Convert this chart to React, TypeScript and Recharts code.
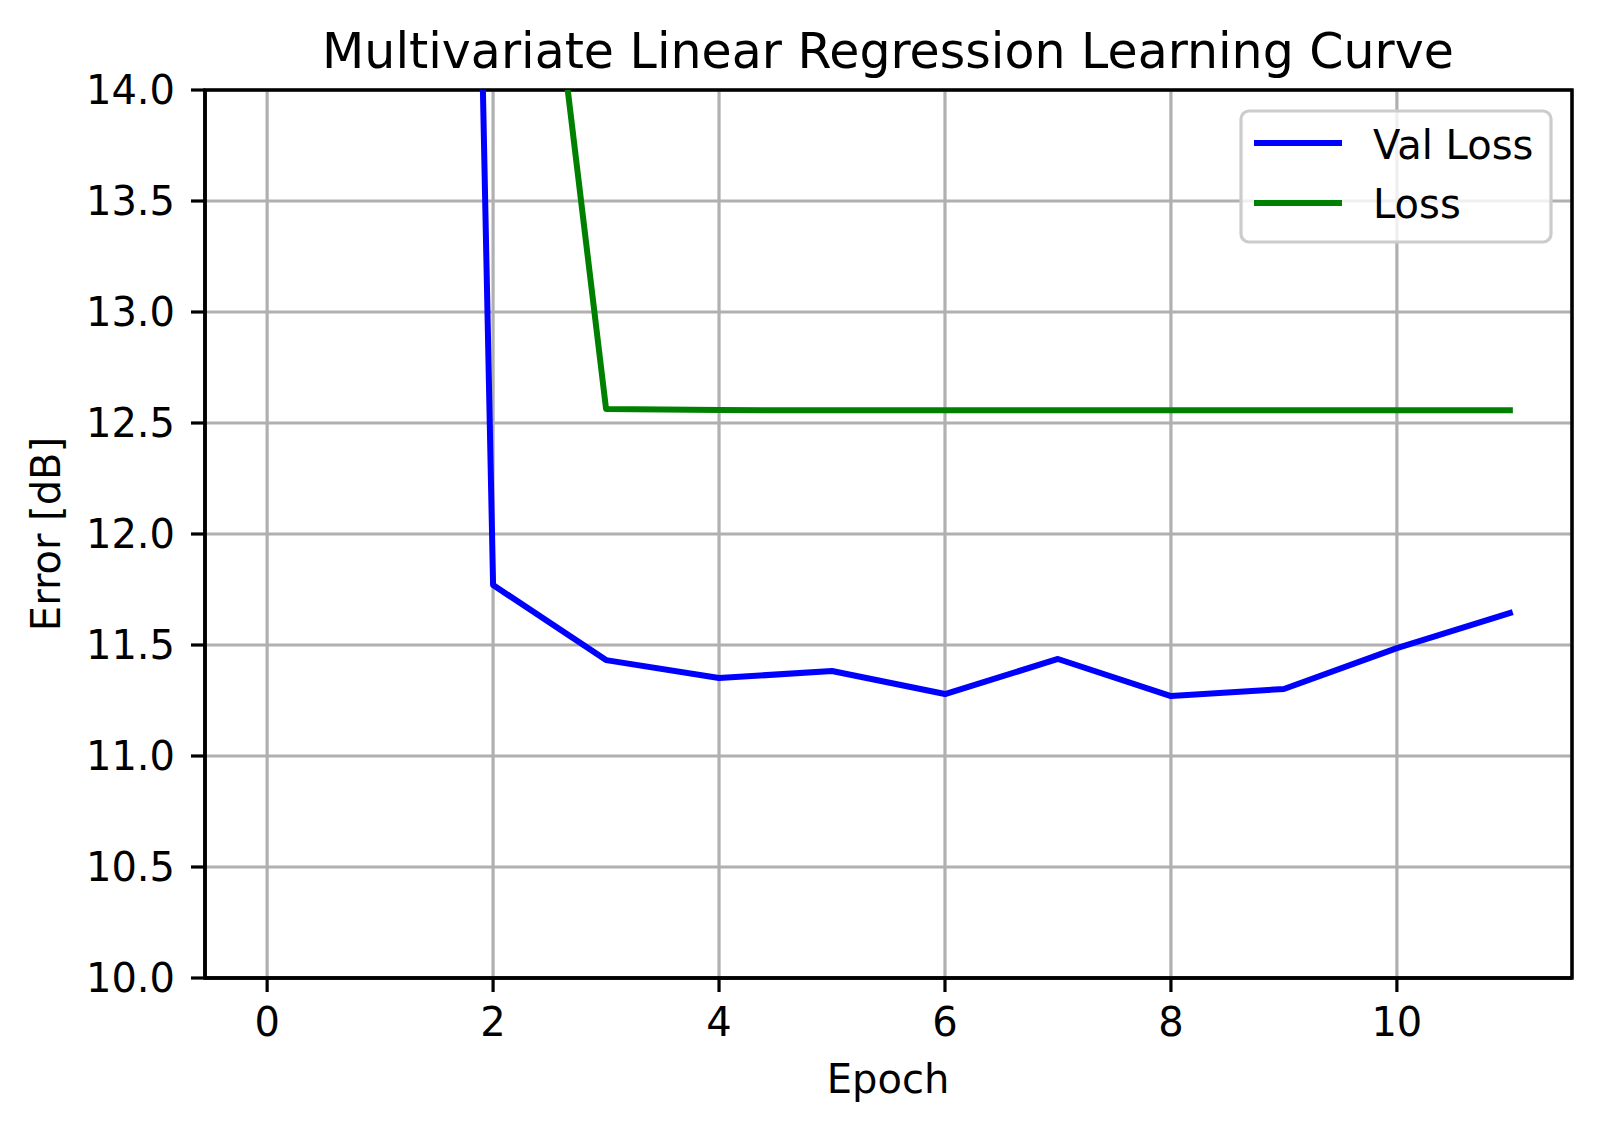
import { CartesianGrid, Line, LineChart, ReferenceArea, XAxis, YAxis } from 'recharts'

// values (first epochs run far above the 14 dB axis limit)
const epochs = [0, 1, 2, 3, 4, 5, 6, 7, 8, 9, 10, 11]
const valLoss = [70.0, 36.5, 11.77, 11.432, 11.351, 11.383, 11.279, 11.437, 11.27, 11.302, 11.486, 11.644]
const trainLoss = [60.0, 30.0, 16.8, 12.563, 12.558, 12.557, 12.557, 12.557, 12.557, 12.557, 12.557, 12.557]

const xTicks = [0, 2, 4, 6, 8, 10]
const yTicks = [10, 10.5, 11, 11.5, 12, 12.5, 13, 13.5, 14]
const xDomain: [number, number] = [-0.55, 11.55]
const yDomain: [number, number] = [10, 14]

const series = [
  { dataKey: 'valLoss', name: 'Val Loss', color: '#0000ff' },
  { dataKey: 'loss', name: 'Loss', color: '#008000' },
]

const data = epochs.map((epoch, i) => ({ epoch, valLoss: valLoss[i], loss: trainLoss[i] }))

const FONT = 'DejaVu Sans'
const tickStyle = { fill: '#000', fontSize: 40, fontFamily: FONT }
const tickLine = { stroke: '#000', strokeWidth: 3.2 }
const axisLine = { stroke: '#000', strokeWidth: 3.5 }

export default function App() {
  return (
    <div style={{ position: 'absolute', left: 0, top: 0, width: 1600, height: 1131, background: '#fff' }}>
      <LineChart width={1600} height={1131} data={data} margin={{ top: 90, right: 28, bottom: 0, left: 0 }}>
        <CartesianGrid stroke="#b0b0b0" strokeWidth={3.2} />
        <XAxis
          dataKey="epoch"
          type="number"
          domain={xDomain}
          ticks={xTicks}
          allowDataOverflow
          height={153}
          tickSize={14}
          tickMargin={16}
          tick={tickStyle}
          tickLine={tickLine}
          axisLine={axisLine}
        />
        <YAxis
          type="number"
          domain={yDomain}
          ticks={yTicks}
          allowDataOverflow
          width={205}
          tickSize={14}
          tickMargin={16}
          tick={tickStyle}
          tickLine={tickLine}
          axisLine={axisLine}
          tickFormatter={(v: number) => v.toFixed(1)}
        />
        {series.map((s) => (
          <Line
            key={s.dataKey}
            type="linear"
            dataKey={s.dataKey}
            name={s.name}
            stroke={s.color}
            strokeWidth={6}
            strokeLinejoin="round"
            strokeLinecap="square"
            dot={false}
            activeDot={false}
            isAnimationActive={false}
          />
        ))}
        <ReferenceArea
          x1={xDomain[0]}
          x2={xDomain[1]}
          y1={yDomain[0]}
          y2={yDomain[1]}
          fill="none"
          stroke="#000"
          strokeWidth={3.5}
        />
      </LineChart>

      <svg
        width={1600}
        height={1131}
        style={{ position: 'absolute', left: 0, top: 0, pointerEvents: 'none' }}
        fontFamily={FONT}
      >
        <text x={888} y={68} textAnchor="middle" fontSize={49} fill="#000">
          Multivariate Linear Regression Learning Curve
        </text>
        <text x={888} y={1093} textAnchor="middle" fontSize={40} fill="#000">
          Epoch
        </text>
        <text x={60} y={534} textAnchor="middle" fontSize={40} fill="#000" transform="rotate(-90 60 534)">
          Error [dB]
        </text>

        <rect
          x={1241}
          y={111}
          width={310}
          height={131}
          rx={8}
          fill="#fff"
          fillOpacity={0.8}
          stroke="#cccccc"
          strokeWidth={3.2}
        />
        {series.map((s, i) => (
          <g key={s.dataKey}>
            <line x1={1254} x2={1342} y1={143 + i * 60} y2={143 + i * 60} stroke={s.color} strokeWidth={6} />
            <text x={1373} y={159 + i * 59} fontSize={40} fill="#000">
              {s.name}
            </text>
          </g>
        ))}
      </svg>
    </div>
  )
}
